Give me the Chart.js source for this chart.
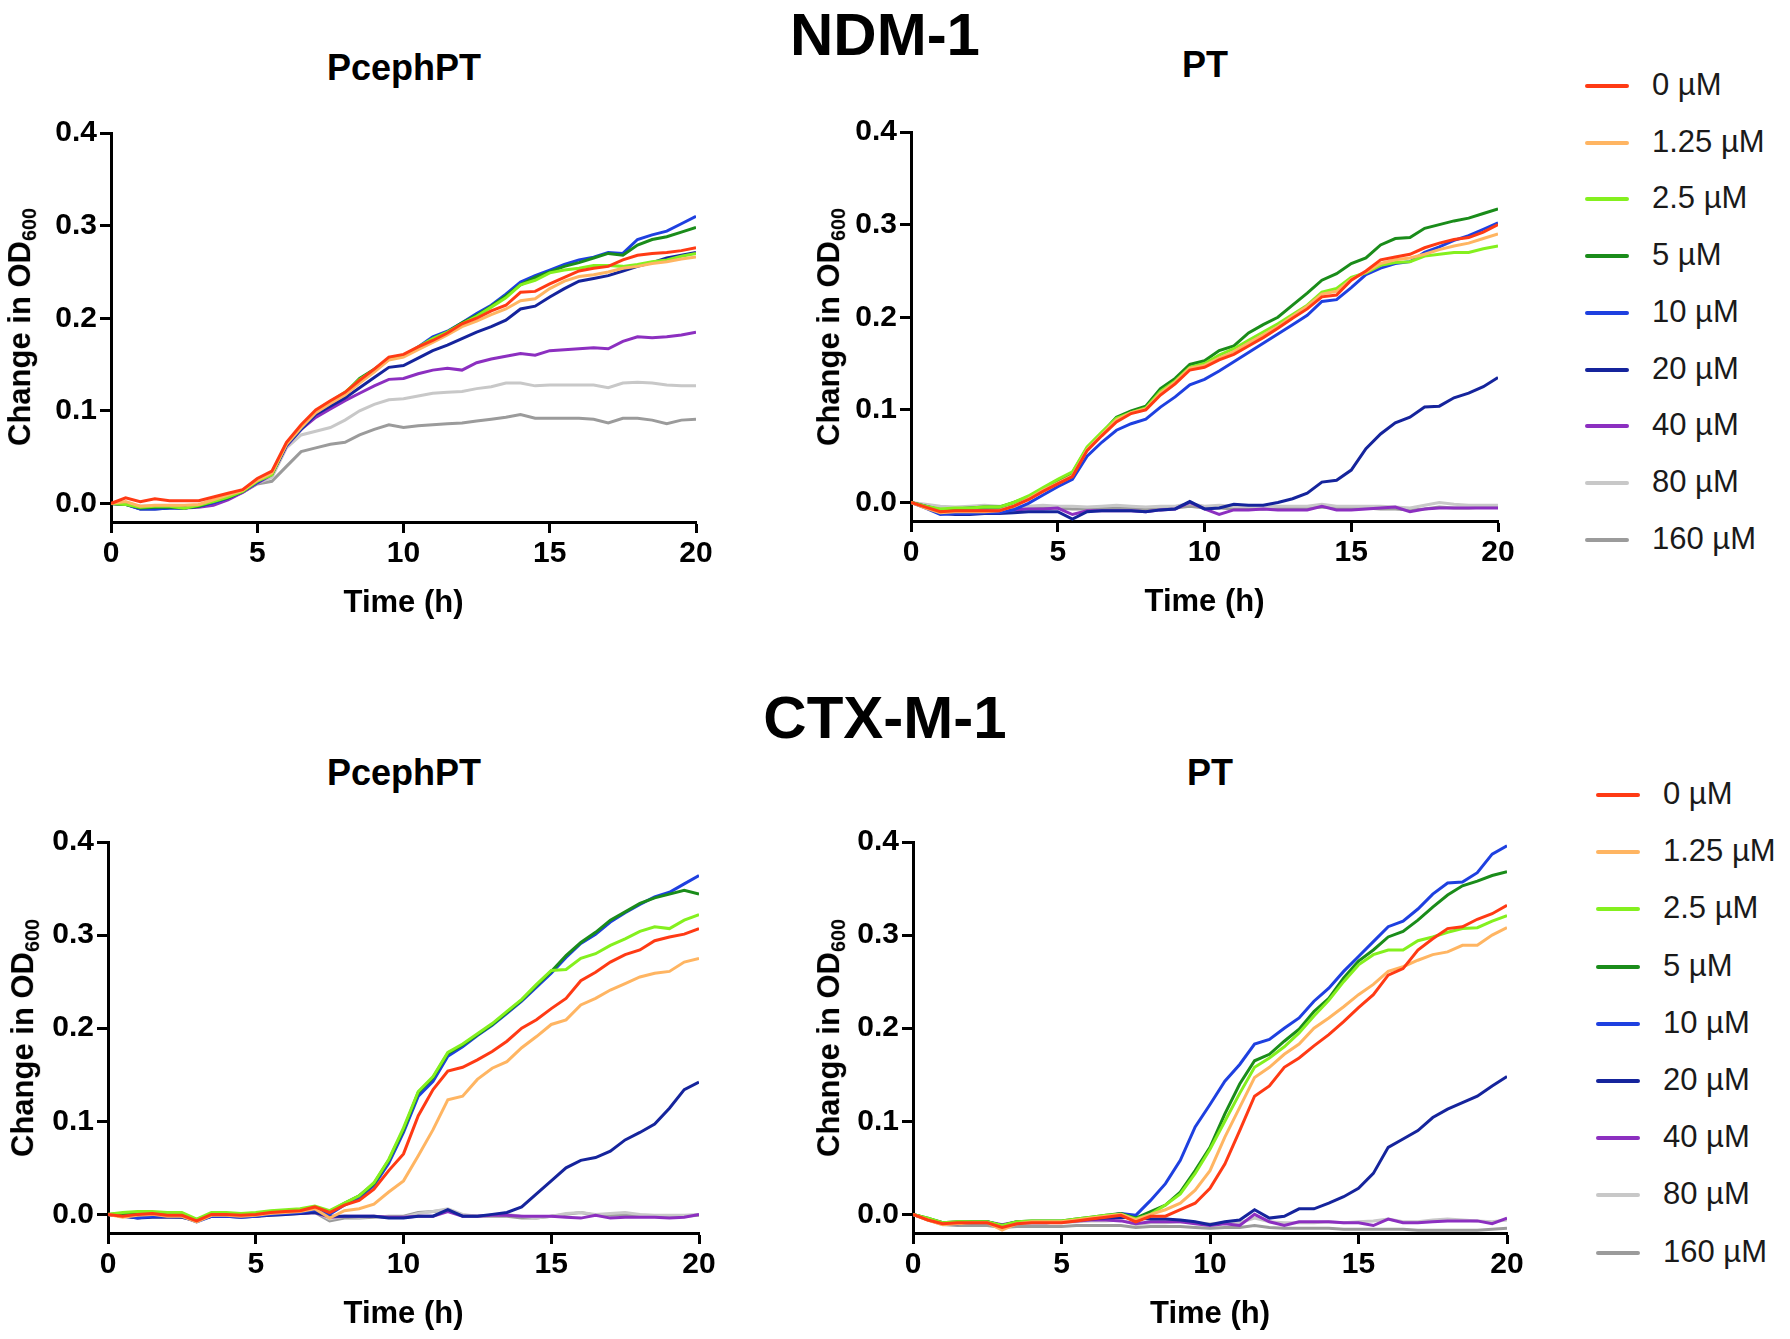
<!DOCTYPE html>
<html>
<head>
<meta charset="utf-8">
<title>NDM-1 / CTX-M-1 growth curves</title>
<script src="https://cdn.jsdelivr.net/npm/chart.js"></script>
<style>
  body { margin: 0; background: #fff; font-family: 'Liberation Sans', Arial, sans-serif; }
  #pagina { position: relative; width: 1790px; height: 1339px; overflow: hidden; }
  canvas { position: absolute; }
  .txt { position: absolute; transform: translate(-50%, -50%); white-space: nowrap; line-height: 1; color: #000; }
  .cabecalho { font-size: 60px; font-weight: bold; }
  .subtitulo { font-size: 36px; font-weight: bold; }
  .eixo-y { font-size: 31px; font-weight: bold; transform: translate(-50%, -50%) rotate(-90deg); }
  .eixo-y sub { font-size: 0.64em; vertical-align: -0.3em; }
  .legenda { position: absolute; }
  .item { position: absolute; left: 0; height: 40px; }
  .item span.linha { position: absolute; left: 0; top: 18px; width: 44px; height: 4px; border-radius: 2px; }
  .item span.rotulo { position: absolute; top: 3px; font-size: 31px; color: #1a1a1a; white-space: nowrap; line-height: 1; }
</style>
</head>
<body>
<div id="pagina">
  <canvas id="g-ndm-pceph" width="715" height="510" style="left:11px; top:112px"></canvas>
  <canvas id="g-ndm-pt" width="717" height="510" style="left:811px; top:111px"></canvas>
  <canvas id="g-ctx-pceph" width="721" height="512" style="left:8px; top:821px"></canvas>
  <canvas id="g-ctx-pt" width="724" height="512" style="left:813px; top:821px"></canvas>

  <div class="txt cabecalho" style="left:885px; top:35px">NDM-1</div>
  <div class="txt cabecalho" style="left:885px; top:718px">CTX-M-1</div>

  <div class="txt subtitulo" style="left:404px; top:68px">PcephPT</div>
  <div class="txt subtitulo" style="left:1205px; top:65px">PT</div>
  <div class="txt subtitulo" style="left:404px; top:773px">PcephPT</div>
  <div class="txt subtitulo" style="left:1210px; top:773px">PT</div>

  <div class="txt eixo-y" style="left:22px; top:327px">Change in OD<sub>600</sub></div>
  <div class="txt eixo-y" style="left:831px; top:327px">Change in OD<sub>600</sub></div>
  <div class="txt eixo-y" style="left:25px; top:1038px">Change in OD<sub>600</sub></div>
  <div class="txt eixo-y" style="left:831px; top:1038px">Change in OD<sub>600</sub></div>

  <div class="legenda" id="legenda-ndm" style="left:1585px; top:66px"></div>
  <div class="legenda" id="legenda-ctx" style="left:1596px; top:775px"></div>
</div>

<script>
// tempo em horas (leituras a cada 30 min)
const hours = [
  0, 0.5, 1, 1.5, 2, 2.5, 3, 3.5, 4, 4.5,
  5, 5.5, 6, 6.5, 7, 7.5, 8, 8.5, 9, 9.5,
  10, 10.5, 11, 11.5, 12, 12.5, 13, 13.5, 14, 14.5,
  15, 15.5, 16, 16.5, 17, 17.5, 18, 18.5, 19, 19.5,
  20
];

const concentrations = ['0 µM', '1.25 µM', '2.5 µM', '5 µM', '10 µM', '20 µM', '40 µM', '80 µM', '160 µM'];
const colors = ['#ff3a14', '#ffb562', '#84f01e', '#1a8c1a', '#1e40e0', '#15249c', '#8c2fc0', '#c8c8c8', '#9b9b9b'];

const xTicks = [0, 5, 10, 15, 20];
const yTicks = [0, 0.1, 0.2, 0.3, 0.4];

// NDM-1, PcephPT
const ndmPceph0 = [
  0, 0.006, 0.002, 0.005, 0.003, 0.003, 0.003, 0.007, 0.011, 0.015,
  0.027, 0.035, 0.066, 0.085, 0.101, 0.111, 0.12, 0.133, 0.145, 0.158,
  0.161, 0.169, 0.176, 0.184, 0.194, 0.2, 0.208, 0.214, 0.228, 0.229,
  0.237, 0.244, 0.251, 0.254, 0.256, 0.263, 0.268, 0.27, 0.271, 0.273,
  0.276
];
const ndmPceph1_25 = [
  0, 0.002, -0.003, -0.002, -0.002, -0.002, -0.001, 0.004, 0.009, 0.014,
  0.025, 0.033, 0.064, 0.082, 0.098, 0.108, 0.117, 0.13, 0.142, 0.155,
  0.158, 0.166, 0.174, 0.182, 0.191, 0.197, 0.204, 0.21, 0.219, 0.221,
  0.232, 0.24, 0.245, 0.247, 0.25, 0.254, 0.256, 0.259, 0.261, 0.264,
  0.266
];
const ndmPceph2_5 = [
  0, -0.001, -0.004, -0.003, -0.003, -0.005, -0.002, 0.002, 0.007, 0.013,
  0.024, 0.031, 0.065, 0.083, 0.1, 0.11, 0.12, 0.134, 0.144, 0.156,
  0.16, 0.169, 0.178, 0.185, 0.194, 0.202, 0.212, 0.222, 0.236, 0.241,
  0.249, 0.252, 0.254, 0.257, 0.257, 0.256, 0.258, 0.261, 0.263, 0.267,
  0.27
];
const ndmPceph5 = [
  0, -0.001, -0.005, -0.004, -0.004, -0.005, -0.003, 0.002, 0.006, 0.013,
  0.024, 0.032, 0.064, 0.082, 0.099, 0.109, 0.119, 0.135, 0.145, 0.156,
  0.159, 0.168, 0.178, 0.185, 0.195, 0.203, 0.213, 0.224, 0.236, 0.244,
  0.25, 0.256, 0.26, 0.265, 0.27, 0.268, 0.279, 0.285, 0.288, 0.293,
  0.298
];
const ndmPceph10 = [
  0, -0.001, -0.006, -0.006, -0.005, -0.005, -0.003, 0.001, 0.006, 0.013,
  0.023, 0.032, 0.063, 0.081, 0.098, 0.108, 0.118, 0.132, 0.143, 0.156,
  0.159, 0.169, 0.18, 0.186, 0.195, 0.205, 0.214, 0.226, 0.239, 0.246,
  0.252, 0.258, 0.263, 0.266, 0.271, 0.27, 0.285, 0.29, 0.294, 0.302,
  0.31
];
const ndmPceph20 = [
  0, -0.001, -0.006, -0.006, -0.005, -0.005, -0.003, 0.001, 0.006, 0.013,
  0.023, 0.032, 0.063, 0.08, 0.096, 0.105, 0.114, 0.125, 0.136, 0.147,
  0.149, 0.157, 0.165, 0.171, 0.178, 0.185, 0.191, 0.198, 0.21, 0.213,
  0.223, 0.232, 0.24, 0.243, 0.246, 0.251, 0.256, 0.26, 0.265, 0.268,
  0.271
];
const ndmPceph40 = [
  0, 0, -0.004, -0.004, -0.004, -0.005, -0.004, -0.002, 0.004, 0.012,
  0.022, 0.031, 0.062, 0.08, 0.093, 0.102, 0.111, 0.119, 0.127, 0.134,
  0.135, 0.14, 0.144, 0.146, 0.144, 0.152, 0.156, 0.159, 0.162, 0.16,
  0.165, 0.166, 0.167, 0.168, 0.167, 0.175, 0.18, 0.179, 0.18, 0.182,
  0.185
];
const ndmPceph80 = [
  0, 0, -0.004, -0.003, -0.003, -0.004, -0.002, 0.002, 0.006, 0.012,
  0.022, 0.028, 0.06, 0.074, 0.078, 0.082, 0.09, 0.1, 0.107, 0.112,
  0.113, 0.116, 0.119, 0.12, 0.121, 0.124, 0.126, 0.13, 0.13, 0.127,
  0.128, 0.128, 0.128, 0.128, 0.125, 0.13, 0.131, 0.13, 0.128, 0.127,
  0.127
];
const ndmPceph160 = [
  0, 0, -0.003, -0.003, -0.003, -0.004, -0.002, 0.002, 0.006, 0.012,
  0.021, 0.024, 0.04, 0.056, 0.06, 0.064, 0.066, 0.074, 0.08, 0.085,
  0.082, 0.084, 0.085, 0.086, 0.087, 0.089, 0.091, 0.093, 0.096, 0.092,
  0.092, 0.092, 0.092, 0.091, 0.087, 0.092, 0.092, 0.09, 0.086, 0.09,
  0.091
];

// NDM-1, PT
const ndmPt0 = [
  0, -0.005, -0.01, -0.009, -0.009, -0.009, -0.009, -0.004, 0.003, 0.012,
  0.02, 0.028, 0.056, 0.072, 0.087, 0.096, 0.1, 0.116, 0.128, 0.143,
  0.146, 0.154, 0.16, 0.169, 0.178, 0.188, 0.199, 0.209, 0.222, 0.224,
  0.24, 0.25, 0.262, 0.265, 0.268, 0.275, 0.28, 0.284, 0.286, 0.292,
  0.3
];
const ndmPt1_25 = [
  0, -0.006, -0.011, -0.01, -0.01, -0.01, -0.009, -0.004, 0.004, 0.013,
  0.021, 0.029, 0.057, 0.073, 0.089, 0.097, 0.101, 0.118, 0.13, 0.145,
  0.148, 0.156, 0.163, 0.172, 0.181, 0.19, 0.201, 0.212, 0.225, 0.228,
  0.241, 0.249, 0.258, 0.262, 0.264, 0.268, 0.273, 0.277, 0.28, 0.285,
  0.29
];
const ndmPt2_5 = [
  0, -0.004, -0.007, -0.006, -0.006, -0.005, -0.005, 0, 0.007, 0.016,
  0.025, 0.033, 0.06, 0.076, 0.091, 0.097, 0.102, 0.12, 0.131, 0.146,
  0.15, 0.159, 0.166, 0.175, 0.184, 0.193, 0.203, 0.213, 0.227, 0.231,
  0.243, 0.248, 0.256, 0.259, 0.26, 0.266, 0.268, 0.27, 0.27, 0.274,
  0.277
];
const ndmPt5 = [
  0, -0.004, -0.008, -0.007, -0.006, -0.005, -0.005, 0, 0.006, 0.015,
  0.024, 0.032, 0.059, 0.075, 0.092, 0.099, 0.104, 0.123, 0.134, 0.149,
  0.153, 0.164, 0.169, 0.183, 0.192, 0.2, 0.213, 0.226, 0.24, 0.247,
  0.258, 0.264, 0.278, 0.285, 0.286, 0.296, 0.3, 0.304, 0.307, 0.312,
  0.317
];
const ndmPt10 = [
  0, -0.006, -0.013, -0.012, -0.012, -0.011, -0.011, -0.008, -0.001, 0.008,
  0.017, 0.025, 0.05, 0.065, 0.078, 0.085, 0.09, 0.103, 0.114, 0.127,
  0.133, 0.142, 0.152, 0.162, 0.172, 0.182, 0.192, 0.202, 0.217, 0.219,
  0.232, 0.246, 0.253, 0.258, 0.26, 0.27, 0.276, 0.283, 0.288, 0.295,
  0.302
];
const ndmPt20 = [
  0, -0.005, -0.012, -0.013, -0.013, -0.012, -0.012, -0.011, -0.01, -0.01,
  -0.01, -0.018, -0.01, -0.009, -0.009, -0.009, -0.01, -0.008, -0.007, 0.001,
  -0.007, -0.006, -0.002, -0.003, -0.003, 0, 0.004, 0.01, 0.022, 0.024,
  0.035, 0.058, 0.074, 0.086, 0.092, 0.103, 0.104, 0.113, 0.118, 0.125,
  0.135
];
const ndmPt40 = [
  0, -0.004, -0.008, -0.009, -0.009, -0.009, -0.009, -0.008, -0.007, -0.007,
  -0.006, -0.013, -0.009, -0.009, -0.009, -0.009, -0.01, -0.008, -0.007, 0,
  -0.007, -0.013, -0.008, -0.008, -0.007, -0.008, -0.008, -0.008, -0.004, -0.008,
  -0.008, -0.007, -0.006, -0.005, -0.01, -0.007, -0.006, -0.006, -0.006, -0.006,
  -0.006
];
const ndmPt80 = [
  0, -0.002, -0.004, -0.005, -0.004, -0.003, -0.004, -0.004, -0.004, -0.003,
  -0.004, -0.004, -0.005, -0.004, -0.003, -0.004, -0.005, -0.004, -0.004, -0.001,
  -0.004, -0.003, -0.004, -0.004, -0.005, -0.004, -0.004, -0.004, -0.002, -0.004,
  -0.004, -0.004, -0.004, -0.005, -0.006, -0.003, 0, -0.002, -0.003, -0.003,
  -0.003
];
const ndmPt160 = [
  0, -0.003, -0.006, -0.007, -0.006, -0.006, -0.006, -0.006, -0.006, -0.006,
  -0.006, -0.007, -0.007, -0.006, -0.006, -0.006, -0.007, -0.007, -0.006, -0.004,
  -0.006, -0.006, -0.007, -0.007, -0.007, -0.006, -0.006, -0.006, -0.005, -0.006,
  -0.006, -0.006, -0.007, -0.007, -0.008, -0.007, -0.005, -0.006, -0.006, -0.005,
  -0.005
];

// CTX-M-1, PcephPT
const ctxPceph0 = [
  0, -0.002, 0, 0.001, -0.001, -0.001, -0.007, 0, 0, -0.001,
  0, 0.002, 0.003, 0.004, 0.008, 0.002, 0.01, 0.015, 0.027, 0.047,
  0.065, 0.106, 0.134, 0.154, 0.158, 0.166, 0.175, 0.186, 0.2, 0.209,
  0.221, 0.232, 0.251, 0.26, 0.271, 0.279, 0.284, 0.294, 0.298, 0.301,
  0.307
];
const ctxPceph1_25 = [
  0, -0.003, -0.001, 0, -0.002, -0.002, -0.008, -0.001, -0.001, -0.002,
  -0.001, 0.001, 0.002, 0.003, 0.006, -0.004, 0.004, 0.006, 0.011, 0.024,
  0.036, 0.063, 0.091, 0.123, 0.127, 0.145, 0.157, 0.164, 0.179, 0.191,
  0.204, 0.209, 0.225, 0.232, 0.241, 0.248, 0.255, 0.259, 0.261, 0.271,
  0.275
];
const ctxPceph2_5 = [
  0, 0.002, 0.003, 0.003, 0.002, 0.002, -0.005, 0.002, 0.002, 0.001,
  0.002, 0.004, 0.005, 0.006, 0.009, 0.004, 0.012, 0.02, 0.034, 0.059,
  0.093, 0.132, 0.148, 0.174, 0.183, 0.194, 0.205, 0.218, 0.231, 0.247,
  0.262, 0.263, 0.275, 0.28, 0.289, 0.296, 0.304, 0.309, 0.307, 0.316,
  0.322
];
const ctxPceph5 = [
  0, 0.001, 0.002, 0.002, 0.001, 0.001, -0.006, 0.001, 0.001, 0,
  0.001, 0.003, 0.004, 0.005, 0.008, 0.003, 0.012, 0.02, 0.033, 0.058,
  0.091, 0.131, 0.147, 0.173, 0.182, 0.193, 0.204, 0.217, 0.23, 0.246,
  0.261, 0.278, 0.292, 0.303, 0.316, 0.325, 0.334, 0.34, 0.344, 0.348,
  0.344
];
const ctxPceph10 = [
  0, -0.001, -0.004, -0.002, -0.002, -0.002, -0.008, -0.002, -0.002, -0.003,
  -0.002, 0, 0.001, 0.002, 0.005, 0, 0.01, 0.018, 0.031, 0.055,
  0.088, 0.127, 0.143, 0.17, 0.18, 0.192, 0.203, 0.216, 0.229, 0.244,
  0.259, 0.276, 0.291, 0.301, 0.314, 0.324, 0.333, 0.341, 0.346, 0.355,
  0.364
];
const ctxPceph20 = [
  0, -0.002, -0.004, -0.003, -0.003, -0.003, -0.007, -0.002, -0.002, -0.003,
  -0.002, -0.001, 0, 0.001, 0.002, -0.002, -0.002, -0.002, -0.002, -0.004,
  -0.004, -0.002, -0.002, 0.005, -0.002, -0.002, 0, 0.002, 0.008, 0.022,
  0.036, 0.05, 0.058, 0.061, 0.068, 0.08, 0.088, 0.097, 0.114, 0.134,
  0.142
];
const ctxPceph40 = [
  0, -0.001, -0.002, -0.002, -0.002, -0.002, -0.006, -0.002, -0.002, -0.002,
  -0.002, 0, 0.001, 0.001, 0.002, -0.003, -0.002, -0.002, -0.002, -0.003,
  -0.003, -0.002, -0.002, 0.003, -0.002, -0.002, -0.001, -0.001, -0.002, -0.002,
  -0.002, -0.003, -0.004, -0.001, -0.004, -0.003, -0.003, -0.003, -0.004, -0.003,
  0
];
const ctxPceph80 = [
  0, -0.001, -0.002, -0.001, -0.001, -0.002, -0.005, -0.001, -0.001, -0.001,
  -0.001, 0.001, 0.001, 0.002, 0.003, -0.005, -0.002, -0.003, -0.002, -0.003,
  -0.003, 0.001, 0.003, 0.006, 0, -0.002, -0.001, 0, -0.002, -0.004,
  -0.002, 0.001, 0.002, 0, 0.001, 0.002, 0, -0.001, -0.001, -0.001,
  0
];
const ctxPceph160 = [
  0, -0.002, -0.003, -0.002, -0.002, -0.003, -0.006, -0.002, -0.002, -0.002,
  -0.002, -0.001, 0, 0.001, 0.002, -0.007, -0.004, -0.004, -0.003, -0.002,
  -0.002, 0.002, 0.003, 0.005, -0.001, -0.002, -0.002, -0.002, -0.004, -0.004,
  -0.002, 0, 0.002, -0.001, -0.001, 0, -0.001, -0.002, -0.003, -0.002,
  -0.001
];

// CTX-M-1, PT
const ctxPt0 = [
  0, -0.006, -0.01, -0.009, -0.009, -0.009, -0.014, -0.01, -0.009, -0.009,
  -0.009, -0.007, -0.005, -0.003, -0.001, -0.008, -0.002, -0.002, 0.005, 0.012,
  0.028, 0.054, 0.09, 0.127, 0.138, 0.158, 0.168, 0.181, 0.193, 0.207,
  0.222, 0.236, 0.257, 0.264, 0.284, 0.296, 0.307, 0.309, 0.317, 0.323,
  0.332
];
const ctxPt1_25 = [
  0, -0.006, -0.011, -0.01, -0.009, -0.009, -0.017, -0.01, -0.008, -0.008,
  -0.008, -0.006, -0.004, -0.002, 0, -0.006, 0, 0.005, 0.012, 0.026,
  0.047, 0.083, 0.115, 0.147, 0.158, 0.172, 0.183, 0.2, 0.211, 0.223,
  0.236, 0.247, 0.261, 0.266, 0.273, 0.279, 0.282, 0.289, 0.289, 0.3,
  0.308
];
const ctxPt2_5 = [
  0, -0.004, -0.009, -0.008, -0.008, -0.008, -0.012, -0.008, -0.007, -0.007,
  -0.007, -0.005, -0.003, -0.001, 0, -0.005, 0, 0.01, 0.022, 0.044,
  0.07, 0.1, 0.13, 0.158, 0.168, 0.18, 0.195, 0.213, 0.23, 0.25,
  0.268, 0.279, 0.284, 0.284, 0.294, 0.298, 0.303, 0.307, 0.308, 0.315,
  0.321
];
const ctxPt5 = [
  0, -0.004, -0.009, -0.008, -0.008, -0.008, -0.012, -0.008, -0.007, -0.007,
  -0.007, -0.005, -0.003, -0.001, 0.001, -0.004, 0.003, 0.01, 0.024, 0.047,
  0.072, 0.108, 0.14, 0.165, 0.172, 0.186, 0.199, 0.218, 0.232, 0.254,
  0.272, 0.284, 0.298, 0.304, 0.316, 0.33, 0.343, 0.353, 0.358, 0.364,
  0.368
];
const ctxPt10 = [
  0, -0.005, -0.01, -0.01, -0.008, -0.008, -0.013, -0.009, -0.008, -0.008,
  -0.008, -0.006, -0.004, -0.002, 0.001, -0.001, 0.015, 0.033, 0.058, 0.094,
  0.118, 0.143, 0.161, 0.183, 0.188, 0.2, 0.211, 0.229, 0.243, 0.261,
  0.277, 0.293, 0.309, 0.315, 0.328, 0.344, 0.356, 0.357, 0.367, 0.387,
  0.396
];
const ctxPt20 = [
  0, -0.005, -0.01, -0.01, -0.009, -0.009, -0.012, -0.009, -0.009, -0.009,
  -0.008, -0.006, -0.005, -0.004, -0.003, -0.004, -0.005, -0.005, -0.006, -0.008,
  -0.011, -0.008, -0.006, 0.005, -0.004, -0.002, 0.006, 0.006, 0.012, 0.019,
  0.028, 0.044, 0.072, 0.081, 0.09, 0.104, 0.113, 0.12, 0.127, 0.138,
  0.148
];
const ctxPt40 = [
  0, -0.005, -0.009, -0.009, -0.008, -0.008, -0.011, -0.008, -0.008, -0.008,
  -0.008, -0.007, -0.006, -0.006, -0.007, -0.01, -0.008, -0.008, -0.008, -0.01,
  -0.012, -0.01, -0.012, 0, -0.008, -0.012, -0.008, -0.008, -0.008, -0.009,
  -0.009, -0.012, -0.005, -0.009, -0.009, -0.008, -0.007, -0.007, -0.007, -0.01,
  -0.004
];
const ctxPt80 = [
  0, -0.005, -0.01, -0.01, -0.009, -0.009, -0.012, -0.009, -0.009, -0.009,
  -0.009, -0.008, -0.007, -0.007, -0.006, -0.011, -0.009, -0.009, -0.008, -0.009,
  -0.01, -0.009, -0.009, -0.004, -0.008, -0.009, -0.009, -0.009, -0.008, -0.009,
  -0.008, -0.007, -0.005, -0.008, -0.008, -0.006, -0.005, -0.006, -0.007, -0.008,
  -0.006
];
const ctxPt160 = [
  0, -0.006, -0.011, -0.012, -0.012, -0.012, -0.014, -0.013, -0.013, -0.013,
  -0.013, -0.012, -0.012, -0.012, -0.012, -0.014, -0.013, -0.013, -0.013, -0.014,
  -0.015, -0.014, -0.014, -0.012, -0.014, -0.015, -0.015, -0.015, -0.015, -0.016,
  -0.016, -0.016, -0.016, -0.016, -0.017, -0.017, -0.017, -0.017, -0.017, -0.016,
  -0.015
];

const panels = [
  { id: 'g-ndm-pceph', series: [ndmPceph0, ndmPceph1_25, ndmPceph2_5, ndmPceph5, ndmPceph10, ndmPceph20, ndmPceph40, ndmPceph80, ndmPceph160] },
  { id: 'g-ndm-pt', series: [ndmPt0, ndmPt1_25, ndmPt2_5, ndmPt5, ndmPt10, ndmPt20, ndmPt40, ndmPt80, ndmPt160] },
  { id: 'g-ctx-pceph', series: [ctxPceph0, ctxPceph1_25, ctxPceph2_5, ctxPceph5, ctxPceph10, ctxPceph20, ctxPceph40, ctxPceph80, ctxPceph160] },
  { id: 'g-ctx-pt', series: [ctxPt0, ctxPt1_25, ctxPt2_5, ctxPt5, ctxPt10, ctxPt20, ctxPt40, ctxPt80, ctxPt160] },
];

const fonte = "'Liberation Sans', Arial, sans-serif";
Chart.defaults.font.family = fonte;
Chart.defaults.color = '#000';

function eixoComum() {
  return {
    border: { display: true, color: '#000', width: 3 },
    grid: { drawOnChartArea: false, drawTicks: true, tickLength: 11, tickWidth: 3, tickColor: '#000' },
    ticks: { color: '#000', font: { size: 30, weight: 'bold' }, maxRotation: 0 },
  };
}

function desenharPainel(painel) {
  const datasets = painel.series.map((valores, i) => ({
    label: concentrations[i],
    data: valores.map((v, j) => ({ x: hours[j], y: v })),
    borderColor: colors[i],
    backgroundColor: colors[i],
    borderWidth: 3,
    pointRadius: 0,
    fill: false,
    tension: 0
  }));

  const x = eixoComum();
  x.type = 'linear';
  x.min = 0;
  x.max = 20;
  x.ticks.padding = 3;
  x.afterBuildTicks = eixo => { eixo.ticks = xTicks.map(v => ({ value: v })); };
  x.afterFit = eixo => { eixo.height = 100; };
  x.title = { display: true, text: 'Time (h)', color: '#000', font: { size: 31, weight: 'bold' }, padding: 0 };

  const y = eixoComum();
  y.min = -0.02;
  y.max = 0.4;
  y.ticks.padding = 3;
  y.ticks.callback = v => v.toFixed(1);
  y.afterBuildTicks = eixo => { eixo.ticks = yTicks.map(v => ({ value: v })); };
  y.afterFit = eixo => { eixo.width = 100; };

  new Chart(document.getElementById(painel.id), {
    type: 'line',
    data: { datasets },
    options: {
      responsive: false,
      animation: false,
      layout: { padding: { top: 20, right: 30, left: 0, bottom: 0 } },
      plugins: { legend: { display: false }, tooltip: { enabled: false } },
      scales: { x, y }
    }
  });
}

function montarLegenda(id, passo) {
  const caixa = document.getElementById(id);
  concentrations.forEach((nome, i) => {
    const item = document.createElement('div');
    item.className = 'item';
    item.style.top = (i * passo) + 'px';
    item.innerHTML = `<span class="linha" style="background:${colors[i]}"></span><span class="rotulo" style="left:67px">${nome}</span>`;
    caixa.appendChild(item);
  });
}

panels.forEach(desenharPainel);
montarLegenda('legenda-ndm', 56.7);
montarLegenda('legenda-ctx', 57.2);
</script>
</body>
</html>
